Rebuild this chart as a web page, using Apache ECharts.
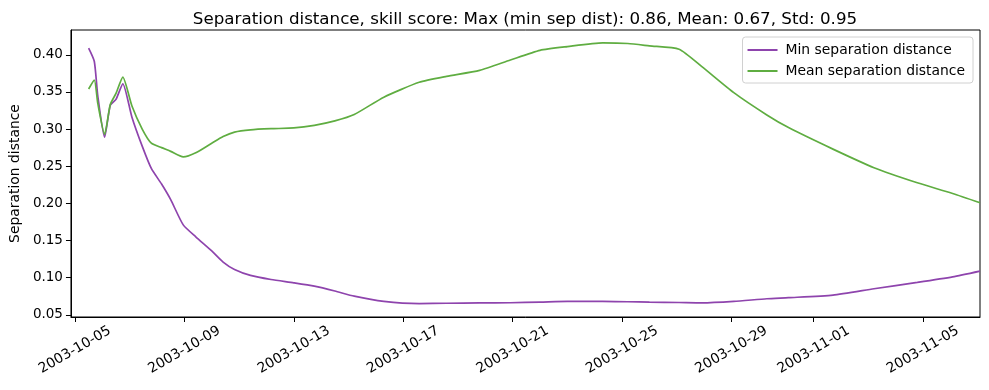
<!DOCTYPE html>
<html>
<head>
<meta charset="utf-8">
<script src="https://cdn.jsdelivr.net/npm/echarts@6/dist/echarts.min.js"></script>
<style>html,body{margin:0;padding:0;background:#fff}#c{width:989px;height:390px}</style>
</head>
<body>
<div id="c"></div>
<script>
var titleText = 'Separation distance, skill score: Max (min sep dist): 0.86, Mean: 0.67, Std: 0.95';
var yAxisName = 'Separation distance';
var seriesNames = ['Min separation distance', 'Mean separation distance'];

var times = [
  '2003-10-05 12:00','2003-10-05 17:00','2003-10-05 20:00','2003-10-06 02:00','2003-10-06 07:00',
  '2003-10-06 12:00','2003-10-06 18:00','2003-10-07 02:00','2003-10-07 11:00','2003-10-07 19:00',
  '2003-10-08 04:00','2003-10-08 12:00','2003-10-08 23:00','2003-10-09 10:00','2003-10-10 00:00',
  '2003-10-10 10:00','2003-10-10 20:00','2003-10-11 10:00','2003-10-12 04:00','2003-10-13 00:00',
  '2003-10-13 18:00','2003-10-14 12:00','2003-10-15 05:00','2003-10-16 07:00','2003-10-17 14:00',
  '2003-10-18 14:00','2003-10-19 19:00','2003-10-20 22:00','2003-10-22 00:00','2003-10-23 00:00',
  '2003-10-24 07:00','2003-10-25 05:00','2003-10-26 00:00','2003-10-27 02:00','2003-10-27 22:00',
  '2003-10-29 02:00','2003-10-30 07:00','2003-10-31 02:00','2003-11-01 17:00','2003-11-03 05:00',
  '2003-11-04 19:00','2003-11-06 02:00','2003-11-07 02:00'
];

var minSep = [
  0.409, 0.391, 0.345, 0.289, 0.332,
  0.340, 0.361, 0.316, 0.277, 0.247,
  0.226, 0.205, 0.171, 0.155, 0.136,
  0.121, 0.111, 0.103, 0.0975, 0.093,
  0.0885, 0.082, 0.075, 0.068, 0.065,
  0.0655, 0.066, 0.0662, 0.067, 0.068,
  0.068, 0.0675, 0.067, 0.0665, 0.066,
  0.068, 0.0716, 0.073, 0.0765, 0.085,
  0.0935, 0.101, 0.1087
];

var meanSep = [
  0.354, 0.366, 0.335, 0.293, 0.333,
  0.348, 0.370, 0.331, 0.300, 0.281,
  0.275, 0.270, 0.2625, 0.268, 0.281,
  0.290, 0.296, 0.299, 0.3005, 0.3015,
  0.305, 0.311, 0.3196, 0.343, 0.363,
  0.371, 0.379, 0.393, 0.406, 0.411,
  0.416, 0.4152, 0.412, 0.4075, 0.384,
  0.349, 0.319, 0.302, 0.273, 0.248,
  0.2277, 0.2133, 0.2008
];

var xTickLabels = ['2003-10-05','2003-10-09','2003-10-13','2003-10-17','2003-10-21','2003-10-25','2003-10-29','2003-11-01','2003-11-05'];
var yTickLabels = [0.05, 0.10, 0.15, 0.20, 0.25, 0.30, 0.35, 0.40];
var xRange = ['2003-10-04 20:30', '2003-11-07 02:00'];
var yRange = [0.047, 0.4334];

function toMs(s) { return new Date(s.replace(' ', 'T') + (s.length <= 10 ? 'T00:00' : '')).getTime(); }
function pad(n) { return n < 10 ? '0' + n : '' + n; }
function fmtDate(v) {
  var d = new Date(v);
  return d.getFullYear() + '-' + pad(d.getMonth() + 1) + '-' + pad(d.getDate());
}

var tms = times.map(toMs);
var xTicks = xTickLabels.map(toMs);
var font = 'DejaVu Sans';

var chart = echarts.init(document.getElementById('c'), null, {renderer: 'canvas'});
chart.setOption({
  animation: false,
  backgroundColor: '#fff',
  title: {
    text: titleText, left: 520, top: 6, textAlign: 'center',
    textStyle: {fontFamily: font, fontSize: 16.7, fontWeight: 'normal', color: '#000'}
  },
  legend: {
    orient: 'vertical', right: 16, top: 37,
    data: seriesNames,
    icon: 'rect', itemWidth: 30, itemHeight: 2, itemGap: 7,
    padding: [6, 8, 5, 5],
    backgroundColor: '#fff', borderColor: '#d0d0d0', borderWidth: 1, borderRadius: 3,
    textStyle: {fontFamily: font, fontSize: 13.9, color: '#000', padding: [0, 0, 0, 3]}
  },
  grid: {left: 70, right: 9, top: 30, bottom: 73, containLabel: false,
    show: true, borderColor: '#000', borderWidth: 1},
  xAxis: {
    type: 'value', min: toMs(xRange[0]), max: toMs(xRange[1]),
    axisLine: {show: true, onZero: false, lineStyle: {color: '#000'}},
    axisTick: {show: true, length: 5, customValues: xTicks, lineStyle: {color: '#000'}},
    axisLabel: {customValues: xTicks, formatter: fmtDate, rotate: 30, margin: 33,
      align: 'center', verticalAlign: 'middle',
      fontFamily: font, fontSize: 13.9, color: '#000'},
    splitLine: {show: false}
  },
  yAxis: {
    type: 'value', min: yRange[0], max: yRange[1],
    name: yAxisName, nameLocation: 'middle', nameGap: 48,
    nameTextStyle: {fontFamily: font, fontSize: 13.9, color: '#000'},
    axisLine: {show: true, onZero: false, lineStyle: {color: '#000'}},
    axisTick: {show: true, length: 5, customValues: yTickLabels, lineStyle: {color: '#000'}},
    axisLabel: {customValues: yTickLabels, formatter: function (v) { return v.toFixed(2); },
      margin: 8, fontFamily: font, fontSize: 13.5, color: '#000'},
    splitLine: {show: false}
  },
  series: [
    {name: seriesNames[0], type: 'line', showSymbol: false, smooth: 0.2,
      color: '#8e44ad', lineStyle: {width: 1.7, color: '#8e44ad'},
      data: tms.map(function (t, i) { return [t, minSep[i]]; })},
    {name: seriesNames[1], type: 'line', showSymbol: false, smooth: 0.2,
      color: '#5fad41', lineStyle: {width: 1.7, color: '#5fad41'},
      data: tms.map(function (t, i) { return [t, meanSep[i]]; })}
  ]
});
</script>
</body>
</html>
